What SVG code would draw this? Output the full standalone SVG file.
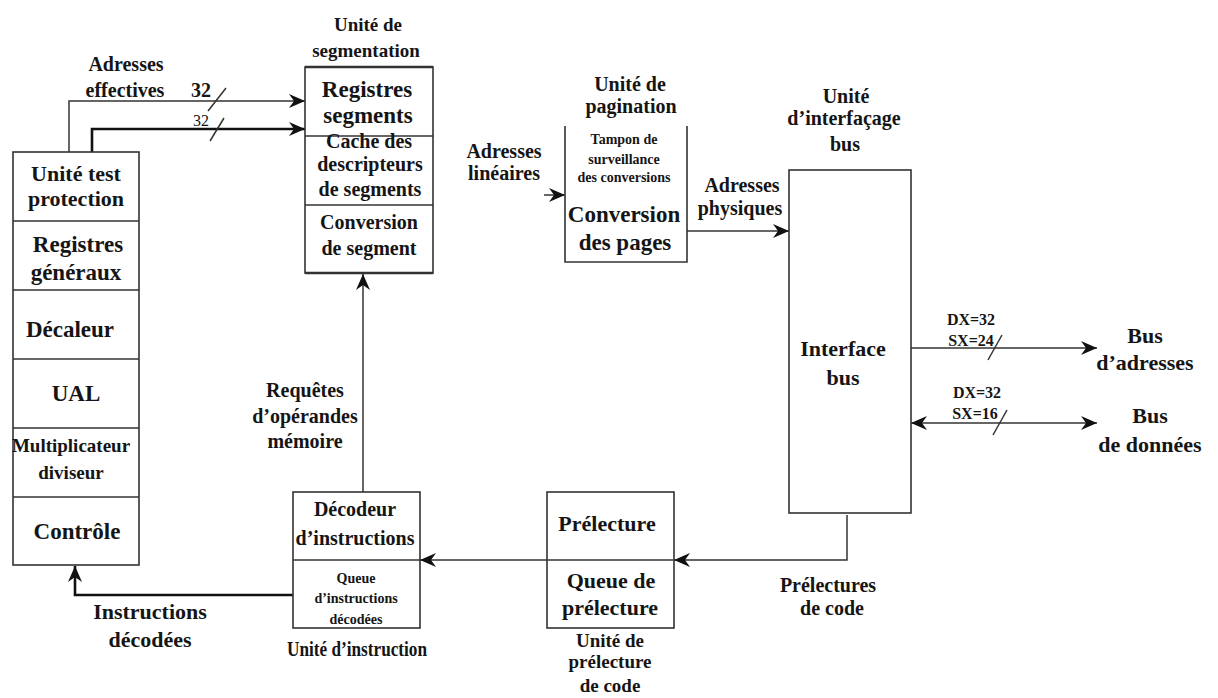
<svg xmlns="http://www.w3.org/2000/svg" width="1218" height="698" viewBox="0 0 1218 698">
<style>
  text { font-family: "Liberation Serif", "Times New Roman", serif; font-weight: bold; fill: #151515; text-anchor: middle; }
  .t23 { font-size: 23px; }
  .t22 { font-size: 22px; }
  .t20 { font-size: 20px; }
  .t19 { font-size: 19px; }
  .t16 { font-size: 16px; }
  .t14 { font-size: 14px; }
  .box { fill: #fff; stroke: #333; stroke-width: 1.6; }
  .div { stroke: #333; stroke-width: 1.6; fill: none; }
  .wire { stroke: #333; stroke-width: 1.5; fill: none; }
  .thick { stroke: #111; stroke-width: 2.6; fill: none; }
</style>
<defs>
  <marker id="arr" markerUnits="userSpaceOnUse" markerWidth="16" markerHeight="16" viewBox="0 0 16 16" refX="16" refY="8" orient="auto-start-reverse">
    <path d="M0,1 L16,8 L0,15 L5,8 z" fill="#111"/>
  </marker>
</defs>

<rect width="1218" height="698" fill="#fff"/>

<g id="connectors">
  <polyline class="wire" points="69,152 69,101 305,101" marker-end="url(#arr)"/>
  <polyline class="thick" points="92,152 92,129 305,129" marker-end="url(#arr)"/>
  <line class="wire" x1="208" y1="111" x2="226" y2="88"/>
  <line class="wire" x1="210" y1="141" x2="224" y2="118"/>
  <line class="wire" x1="544" y1="195" x2="565" y2="195" marker-end="url(#arr)"/>
  <line class="wire" x1="687" y1="231" x2="789" y2="231" marker-end="url(#arr)"/>
  <line class="wire" x1="911" y1="348" x2="1097" y2="348" marker-end="url(#arr)"/>
  <line class="wire" x1="988" y1="360" x2="1002" y2="335"/>
  <line class="wire" x1="911" y1="423" x2="1097" y2="423" marker-start="url(#arr)" marker-end="url(#arr)"/>
  <line class="wire" x1="993" y1="435" x2="1007" y2="410"/>
  <polyline class="wire" points="847,515 847,560 674,560" marker-end="url(#arr)"/>
  <line class="wire" x1="547" y1="560" x2="420" y2="560" marker-end="url(#arr)"/>
  <line class="wire" x1="363" y1="492" x2="363" y2="274" marker-end="url(#arr)"/>
  <polyline class="thick" points="293,595 75,595 75,566" marker-end="url(#arr)"/>
</g>

<g id="labels">
  <text class="t20" x="126" y="71">Adresses</text>
  <text class="t20" x="125" y="97">effectives</text>
  <text class="t20" x="201" y="97">32</text>
  <text class="t16" x="201" y="126" style="font-weight:normal">32</text>
  <text class="t20" x="504" y="158">Adresses</text>
  <text class="t20" x="504" y="180">linéaires</text>
  <text class="t20" x="742" y="192">Adresses</text>
  <text class="t20" x="740" y="215">physiques</text>
  <text class="t16" x="971" y="325">DX=32</text>
  <text class="t16" x="971" y="346">SX=24</text>
  <text class="t22" x="1145" y="343">Bus</text>
  <text class="t22" x="1145" y="370">d’adresses</text>
  <text class="t16" x="977" y="398">DX=32</text>
  <text class="t16" x="975" y="419">SX=16</text>
  <text class="t22" x="1150" y="423">Bus</text>
  <text class="t22" x="1150" y="452">de données</text>
  <text class="t20" x="828" y="592">Prélectures</text>
  <text class="t20" x="832" y="615">de code</text>
  <text class="t20" x="305" y="397">Requêtes</text>
  <text class="t20" x="305" y="423">d’opérandes</text>
  <text class="t20" x="305" y="448">mémoire</text>
  <text class="t22" x="150" y="619">Instructions</text>
  <text class="t22" x="150" y="647">décodées</text>
</g>

<g id="execution-unit">
  <rect class="box" x="13" y="152" width="126" height="413"/>
  <line class="div" x1="13" y1="221" x2="139" y2="221"/>
  <line class="div" x1="13" y1="290" x2="139" y2="290"/>
  <line class="div" x1="13" y1="359" x2="139" y2="359"/>
  <line class="div" x1="13" y1="428" x2="139" y2="428"/>
  <line class="div" x1="13" y1="497" x2="139" y2="497"/>
  <text class="t22" x="76" y="181">Unité test</text>
  <text class="t22" x="76" y="206">protection</text>
  <text class="t23" x="78" y="252">Registres</text>
  <text class="t23" x="76" y="280">généraux</text>
  <text class="t23" x="70" y="337">Décaleur</text>
  <text class="t23" x="76" y="401">UAL</text>
  <text class="t19" x="71" y="452">Multiplicateur</text>
  <text class="t19" x="71" y="479">diviseur</text>
  <text class="t23" x="77" y="539">Contrôle</text>
</g>

<g id="segmentation-unit">
  <text class="t19" x="368" y="31">Unité de</text>
  <text class="t19" x="366" y="57">segmentation</text>
  <rect class="box" x="305" y="67" width="128" height="206"/>
  <line class="div" x1="305" y1="67" x2="433" y2="67" style="stroke-width:2.4"/>
  <line class="div" x1="305" y1="136" x2="433" y2="136"/>
  <line class="div" x1="305" y1="205" x2="433" y2="205"/>
  <line class="div" x1="305" y1="273" x2="433" y2="273" style="stroke-width:2.4"/>
  <text class="t23" x="367" y="97">Registres</text>
  <text class="t23" x="368" y="123">segments</text>
  <text class="t20" x="369" y="148">Cache des</text>
  <text class="t20" x="370" y="171">descripteurs</text>
  <text class="t20" x="370" y="196">de segments</text>
  <text class="t20" x="369" y="229">Conversion</text>
  <text class="t20" x="369" y="255">de segment</text>
</g>

<g id="paging-unit">
  <text class="t20" x="630" y="91">Unité de</text>
  <text class="t20" x="631" y="113">pagination</text>
  <polyline class="div" points="565,126 565,262 687,262 687,126"/>
  <text class="t14" x="624" y="144">Tampon de</text>
  <text class="t14" x="624" y="164">surveillance</text>
  <text class="t14" x="624" y="182">des conversions</text>
  <text class="t23" x="624" y="222">Conversion</text>
  <text class="t23" x="625" y="250">des pages</text>
</g>

<g id="bus-interface-unit">
  <text class="t20" x="846" y="103">Unité</text>
  <text class="t20" x="844" y="125">d’interfaçage</text>
  <text class="t20" x="845" y="151">bus</text>
  <rect class="box" x="789" y="170" width="122" height="343"/>
  <text class="t22" x="843" y="356">Interface</text>
  <text class="t22" x="843" y="385">bus</text>
</g>

<g id="instruction-unit">
  <rect class="box" x="293" y="492" width="127" height="136"/>
  <line class="div" x1="293" y1="560" x2="420" y2="560"/>
  <text class="t20" x="355" y="516">Décodeur</text>
  <text class="t20" x="355" y="545">d’instructions</text>
  <text class="t14" x="356" y="583">Queue</text>
  <text class="t14" x="356" y="603">d’instructions</text>
  <text class="t14" x="356" y="624">décodées</text>
  <text class="t22" x="357" y="656" textLength="140" lengthAdjust="spacingAndGlyphs">Unité d’instruction</text>
</g>

<g id="prefetch-unit">
  <rect class="box" x="547" y="492" width="127" height="136"/>
  <line class="div" x1="547" y1="560" x2="674" y2="560"/>
  <text class="t22" x="607" y="531">Prélecture</text>
  <text class="t22" x="611" y="588">Queue de</text>
  <text class="t22" x="610" y="615">prélecture</text>
  <text class="t19" x="610" y="647">Unité de</text>
  <text class="t19" x="610" y="668">prélecture</text>
  <text class="t19" x="610" y="692">de code</text>
</g>
</svg>
